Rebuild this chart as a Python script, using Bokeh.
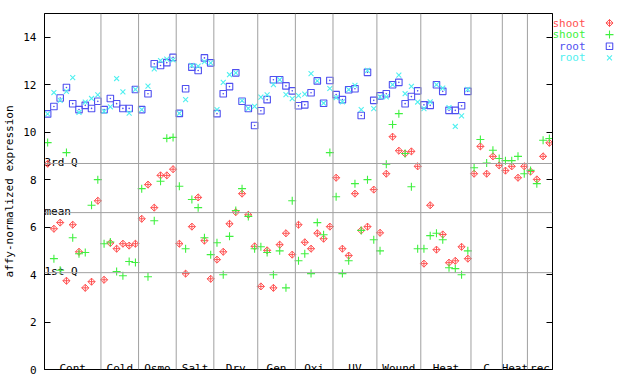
import math
import numpy as np
from bokeh.plotting import figure
from bokeh.layouts import row
from bokeh.models import (Range1d, LinearAxis, FixedTicker, Span, Label,
                          ColumnDataSource)
from bokeh.embed import file_html
from bokeh.resources import INLINE
from bokeh.core.properties import value

# ---------------- data ----------------
groups = ["Cont", "Cold", "Osmo", "Salt", "Dry", "Gen", "Oxi", "UV",
          "Wound", "Heat", "C", "Heat", "rec"]
group_sizes = [9, 6, 6, 6, 7, 6, 6, 7, 7, 8, 5, 4, 4]
sub_label = "suspension"          # second line under the "C" group
stat_names = ["3rd Q", "mean", "1st Q"]
stat_values = [8.68, 6.61, 4.08]
y_ticks = [0, 2, 4, 6, 8, 10, 12, 14]
series_names = ["shoot", "shoot", "root", "root"]
y_title = "affy-normalized expression"

shoot_red = [8.67, 5.93, 6.19, 3.74, 6.10, 4.96, 3.44, 3.70, 7.11,
             3.78, 5.33, 5.09, 5.30, 5.22, 5.30,
             6.35, 7.79, 6.82, 8.18, 8.18, 8.44,
             5.30, 4.04, 6.02, 7.25, 5.43, 3.82,
             4.63, 4.96, 6.14, 6.63, 7.41, 6.52, 5.19,
             3.50, 5.02, 3.44, 5.26, 5.74, 4.84,
             6.10, 5.36, 5.09, 5.74, 5.51, 6.02,
             8.08, 5.09, 4.80, 7.41, 5.86, 6.02, 7.58,
             5.76, 8.25, 9.81, 9.22, 9.10, 9.19, 8.56,
             4.46, 6.92, 5.05, 5.69, 4.50, 4.58, 5.17, 4.67,
             8.25, 9.40, 8.25, 8.98, 8.60,
             8.38, 8.56, 8.08, 8.56,
             8.34, 8.01, 8.98, 9.55]

shoot_green = [9.56, 4.67, 4.18, 9.14, 5.55, 4.88, 4.93, 6.92, 8.00,
               5.30, 5.37, 4.13, 3.95, 4.55, 4.51,
               7.62, 3.91, 6.27, 7.93, 9.74, 9.78,
               7.72, 5.09, 7.16, 6.82, 5.55, 4.84,
               5.34, 3.99, 5.61, 6.70, 7.62, 6.45, 5.09,
               5.17, 4.93, 3.99, 5.00, 3.44, 7.11,
               4.58, 4.88, 4.04, 6.19, 5.68, 9.14,
               7.28, 4.04, 4.58, 7.83, 5.86, 8.00, 5.47,
               5.00, 8.65, 10.32, 10.78, 9.10, 7.70, 5.09,
               5.09, 5.64, 5.74, 5.47, 4.29, 4.25, 3.99, 5.00,
               8.50, 9.69, 8.70, 9.24, 8.89,
               8.80, 8.80, 8.98, 8.25,
               8.39, 7.83, 9.66, 9.73]

nan = float("nan")
root_blue = [10.77, 11.08, 11.44, 11.88, 11.20, 10.95, 11.13, 11.00, 11.30,
             10.95, 11.42, 11.20, 11.00, 11.00, 11.80,
             10.95, 11.62, 12.88, 12.81, 12.93, 13.15,
             10.79, 11.83, 12.74, 12.60, 13.13, 12.92,
             10.78, 11.62, 11.92, 12.50, 11.30, 11.00, 10.28,
             10.90, 11.37, 12.21, 12.21, 11.95, 11.74,
             11.11, 11.15, 11.66, 12.16, 11.22, 12.18,
             11.58, 11.37, 11.79, 11.83, 10.70, 12.52, 11.34,
             11.53, 11.62, 12.00, 12.10, 11.20, 11.50, 11.74,
             11.15, 11.13, 12.00, 11.72, 10.92, 10.92, 11.11, 11.72,
             nan, nan, nan, nan, nan,
             nan, nan, nan, nan,
             nan, nan, nan, nan]

root_cyan = [10.77, 11.67, 11.34, 11.72, 12.30, 10.83, 11.27, 11.42, 11.57,
             10.88, 11.07, 12.26, 11.70, 10.80, 11.80,
             10.95, 11.94, 12.67, 13.02, 13.08, 13.05,
             10.79, 11.37, 12.81, 12.78, 12.97, 12.92,
             10.95, 12.10, 12.42, 12.50, 11.33, 11.00, 11.09,
             11.48, 11.57, 12.00, 12.21, 11.58, 11.41,
             11.54, 11.60, 12.47, 12.16, 11.22, 11.84,
             11.46, 11.28, 11.79, 11.97, 10.95, 12.60, 10.99,
             11.49, 11.49, 12.00, 12.40, 11.62, 11.93, 11.27,
             10.99, 11.28, 12.00, 11.86, 11.03, 10.24, 10.69, 11.80,
             nan, nan, nan, nan, nan,
             nan, nan, nan, nan,
             nan, nan, nan, nan]

# ---------------- styling ----------------
FONT = "DejaVu Sans Mono"
FS = "11px"
RED, GREEN, BLUE, CYAN = "#ff5050", "#40f040", "#5050f0", "#50f0f0"
GRID = "#a0a0a0"

n = sum(group_sizes)
xs = list(range(1, n + 1))
bounds = [float(b) for b in np.cumsum(group_sizes) + 0.5]
starts = [0.5] + bounds[:-1]
centers = [(a + b) / 2 for a, b in zip(starts, bounds)]

FRAME_W, FRAME_H = 508, 356
LEFT, TOP, BOTTOM = 44, 13, 15
MAIN_W = LEFT + FRAME_W + 1
TOTAL_W, TOTAL_H = 640, TOP + FRAME_H + BOTTOM
Y_MAX = 15

p = figure(width=MAIN_W, height=TOTAL_H, x_range=Range1d(0.5, n + 0.5),
           y_range=Range1d(0, Y_MAX), output_backend="svg", title=None,
           toolbar_location=None, x_axis_location=None,
           min_border_left=LEFT, min_border_right=1,
           min_border_top=TOP, min_border_bottom=BOTTOM)
p.xgrid.visible = False
p.ygrid.visible = False
p.outline_line_color = "black"
p.outline_line_alpha = 1.0
p.background_fill_color = "white"
p.border_fill_color = "white"

yax = p.yaxis[0]
yax.ticker = FixedTicker(ticks=y_ticks)
yax.major_tick_in = 6
yax.major_tick_out = 0
yax.minor_tick_line_color = None
yax.axis_line_color = "black"
yax.major_tick_line_color = "black"
yax.major_label_standoff = 8
yax.major_label_text_font = FONT
yax.major_label_text_font_size = FS
yax.major_label_text_color = "black"
yax.axis_label = y_title
yax.axis_label_text_font = FONT
yax.axis_label_text_font_size = FS
yax.axis_label_text_font_style = "normal"
yax.axis_label_text_color = "black"
yax.axis_label_standoff = 4

rax = LinearAxis(ticker=FixedTicker(ticks=y_ticks), major_tick_in=6,
                 major_tick_out=0, minor_tick_line_color=None,
                 axis_line_color="black", major_label_text_font_size="0px",
                 major_label_text_color=None, major_label_standoff=0)
p.add_layout(rax, "right")

for b in bounds[:-1]:
    p.add_layout(Span(location=b, dimension="height", line_color=GRID,
                      line_width=1))
for v in stat_values:
    p.add_layout(Span(location=v, dimension="width", line_color=GRID,
                      line_width=1))

p.text(x=[0.5] * len(stat_values), y=stat_values, text=stat_names,
       text_font=value(FONT), text_font_size=FS, text_color="black",
       text_baseline="alphabetic", text_align="left", y_offset=-1)

p.text(x=centers, y=[0] * len(groups), text=groups, text_font=value(FONT),
       text_font_size=FS, text_color="black", text_baseline="alphabetic",
       text_align="center", y_offset=-1)

ci = groups.index("C")
p.add_layout(Label(x=bounds[ci], y=-0.37, text=sub_label, text_font=FONT,
                   text_font_size=FS, text_color="black",
                   text_align="center", text_baseline="alphabetic"))

src = ColumnDataSource(dict(x=xs, r=shoot_red, g=shoot_green,
                            b=root_blue, c=root_cyan))
MK = dict(
    red=dict(marker="square_x", size=5, angle=math.pi / 4, line_color=RED,
             fill_color=None, line_width=1),
    green=dict(marker="cross", size=8, line_color=GREEN, line_width=1.1),
    blue=dict(marker="square_dot", size=6.5, line_color=BLUE,
              fill_color=None, line_width=1.1),
    cyan=dict(marker="x", size=7, line_color=CYAN, line_width=1.1),
)
p.scatter("x", "r", source=src, **MK["red"])
p.scatter("x", "g", source=src, **MK["green"])
p.scatter("x", "b", source=src, **MK["blue"])
p.scatter("x", "c", source=src, **MK["cyan"])

# ---------------- legend panel (gnuplot style: text, then marker) ----------
# shares the vertical scale of the main plot (same borders, same y range)
LW = TOTAL_W - MAIN_W
q = figure(width=LW, height=TOTAL_H, x_range=Range1d(0, LW),
           y_range=Range1d(0, Y_MAX), output_backend="svg", title=None,
           toolbar_location=None, x_axis_location=None,
           y_axis_location=None, min_border_left=0, min_border_right=0,
           min_border_top=TOP, min_border_bottom=BOTTOM)
q.xgrid.visible = False
q.ygrid.visible = False
q.outline_line_color = None
q.background_fill_color = "white"
q.border_fill_color = "white"

px_per_y = FRAME_H / Y_MAX
row_px = [22.5 + i * 11.6 for i in range(len(series_names))]   # page y
row_y = [(TOP + FRAME_H - r) / px_per_y for r in row_px]
colors = [RED, GREEN, BLUE, CYAN]
q.text(x=[585 - MAIN_W] * 4, y=row_y, text=series_names,
       text_color=colors, text_font=value(FONT), text_font_size=FS,
       text_align="right", text_baseline="middle")
for key, yy in zip(["red", "green", "blue", "cyan"], row_y):
    q.scatter(x=[609 - MAIN_W], y=[yy], **MK[key])

layout = row(p, q, spacing=0)
open("out.html", "w").write(file_html(layout, INLINE))
